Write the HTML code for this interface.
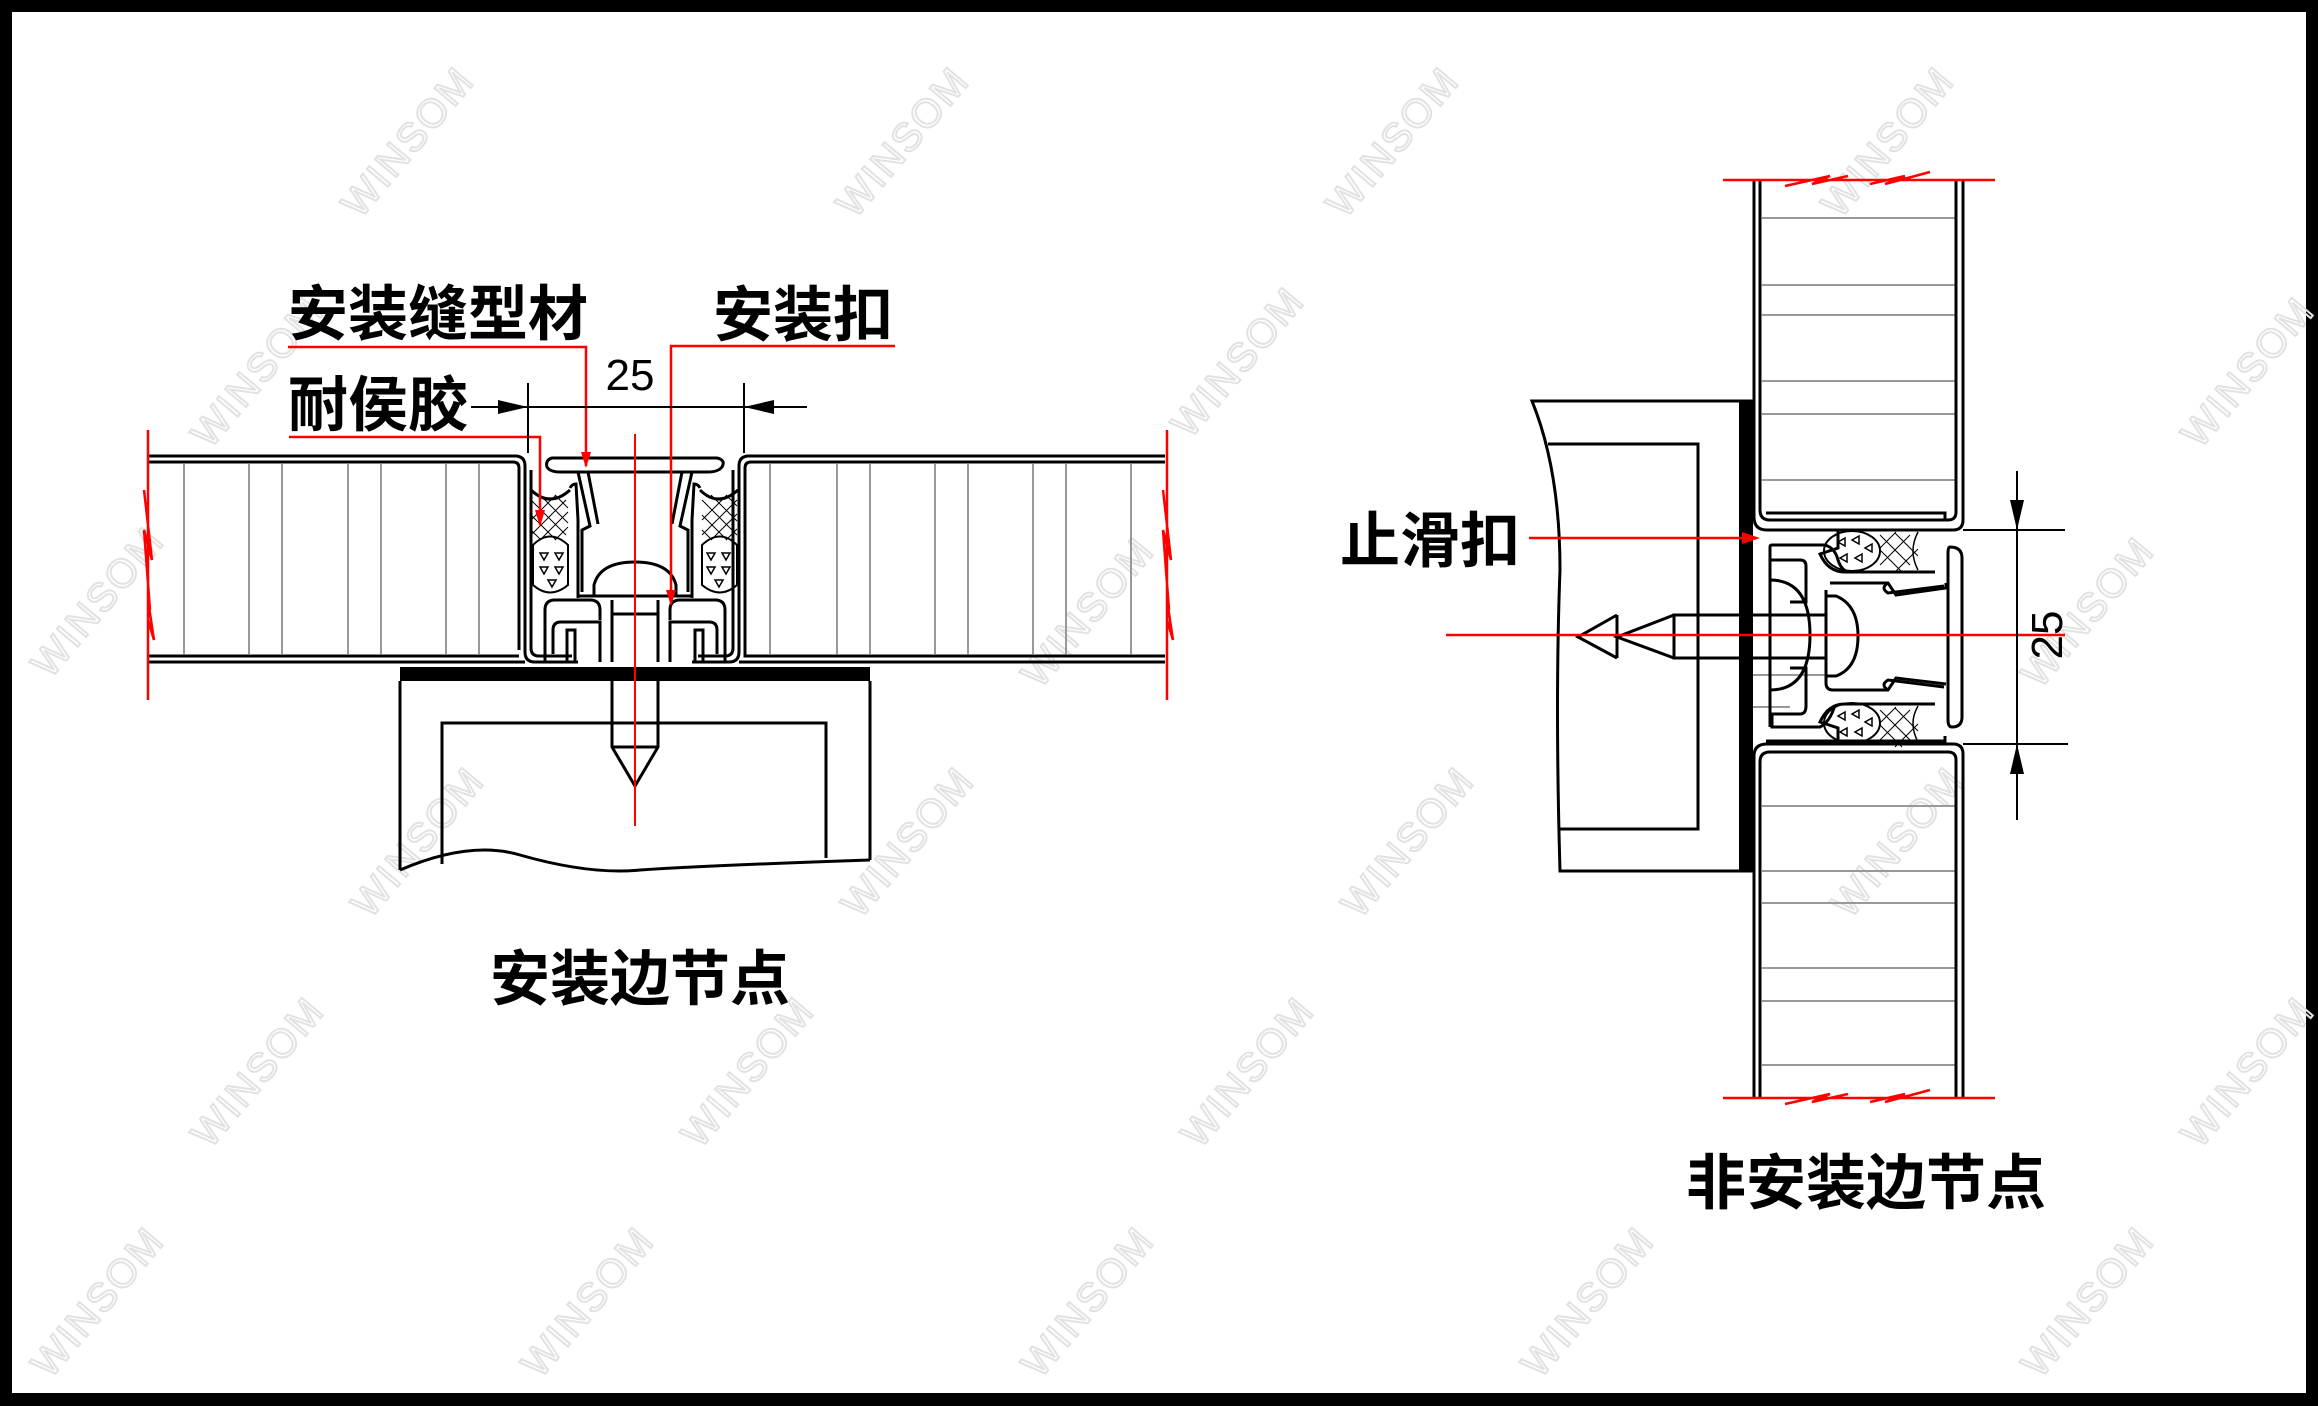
<!DOCTYPE html>
<html><head><meta charset="utf-8">
<style>
html,body{margin:0;padding:0;background:#fff;}
svg{display:block;}
.t{font-family:"Liberation Sans","Noto Sans CJK SC",sans-serif;font-weight:bold;}
.wm{font-family:"Liberation Sans",sans-serif;font-size:40px;fill:none;stroke:#e2e2e2;stroke-width:2;letter-spacing:2px;}
</style></head>
<body>
<svg width="2318" height="1406" viewBox="0 0 2318 1406" xmlns="http://www.w3.org/2000/svg">
<rect x="0" y="0" width="2318" height="1406" fill="#000"/>
<rect x="12" y="12" width="2294" height="1381" fill="#fff"/>

<!-- watermarks -->
<g class="wm">
<text transform="translate(360,220) rotate(-50)">WINSOM</text>
<text transform="translate(855,220) rotate(-50)">WINSOM</text>
<text transform="translate(1345,220) rotate(-50)">WINSOM</text>
<text transform="translate(1840,220) rotate(-50)">WINSOM</text>
<text transform="translate(210,450) rotate(-50)">WINSOM</text>
<text transform="translate(1190,440) rotate(-50)">WINSOM</text>
<text transform="translate(2200,450) rotate(-50)">WINSOM</text>
<text transform="translate(50,680) rotate(-50)">WINSOM</text>
<text transform="translate(1040,690) rotate(-50)">WINSOM</text>
<text transform="translate(2040,690) rotate(-50)">WINSOM</text>
<text transform="translate(370,920) rotate(-50)">WINSOM</text>
<text transform="translate(860,920) rotate(-50)">WINSOM</text>
<text transform="translate(1360,920) rotate(-50)">WINSOM</text>
<text transform="translate(1850,920) rotate(-50)">WINSOM</text>
<text transform="translate(210,1150) rotate(-50)">WINSOM</text>
<text transform="translate(700,1150) rotate(-50)">WINSOM</text>
<text transform="translate(1200,1150) rotate(-50)">WINSOM</text>
<text transform="translate(2200,1150) rotate(-50)">WINSOM</text>
<text transform="translate(50,1380) rotate(-50)">WINSOM</text>
<text transform="translate(540,1380) rotate(-50)">WINSOM</text>
<text transform="translate(1040,1380) rotate(-50)">WINSOM</text>
<text transform="translate(1540,1380) rotate(-50)">WINSOM</text>
<text transform="translate(2040,1380) rotate(-50)">WINSOM</text>
</g>

<!-- ============ LEFT DRAWING ============ -->
<g stroke="#999" stroke-width="2">
<line x1="184" y1="464" x2="184" y2="654"/><line x1="249" y1="464" x2="249" y2="654"/>
<line x1="282" y1="464" x2="282" y2="654"/><line x1="348" y1="464" x2="348" y2="654"/>
<line x1="381" y1="464" x2="381" y2="654"/><line x1="446" y1="464" x2="446" y2="654"/>
<line x1="479" y1="464" x2="479" y2="654"/>
<line x1="770" y1="464" x2="770" y2="654"/><line x1="837" y1="464" x2="837" y2="654"/>
<line x1="870" y1="464" x2="870" y2="654"/><line x1="935" y1="464" x2="935" y2="654"/>
<line x1="968" y1="464" x2="968" y2="654"/><line x1="1033" y1="464" x2="1033" y2="654"/>
<line x1="1066" y1="464" x2="1066" y2="654"/><line x1="1131" y1="464" x2="1131" y2="654"/>
</g>
<g fill="none" stroke="#000" stroke-width="3">
<!-- left panel -->
<path d="M148,456 H515 Q525,456 525,466 V652 Q525,662 535,662 H578"/>
<path d="M148,462 H513 Q519,462 519,468 V650"/>
<path d="M531,470 V648 Q531,656 539,656 H572"/>
<path d="M148,656 H519"/>
<path d="M148,662 H525"/>
<!-- right panel -->
<path d="M1165,456 H749 Q739,456 739,466 V652 Q739,662 729,662 H692"/>
<path d="M1165,462 H751 Q745,462 745,468 V656 H1165"/>
<path d="M733,470 V648 Q733,656 725,656 H698"/>
<path d="M739,662 H1165"/>
<!-- cap -->
<path d="M552,458 H717 Q726,460 722,467 Q718,472 708,472 H560 Q550,472 547,467 Q545,460 552,458 Z"/>
<!-- clip arms -->
<path d="M578,472 L590,526 L582,530 V592"/>
<path d="M588,472 L598,524"/>
<path d="M692,472 L680,526 L688,530 V592"/>
<path d="M682,472 L672,524"/>
<!-- body walls -->
<path d="M570,488 Q572,484 576,484 L578,520 V598"/>
<path d="M700,488 Q698,484 694,484 L692,520 V598"/>
<!-- dome -->
<path d="M594,595 V585 Q600,562 635,562 Q670,562 676,585 V595"/>
<line x1="578" y1="596" x2="692" y2="596"/>
<!-- bottom channels -->
<path d="M545,662 V610 Q545,600 555,600 H590 Q600,600 600,610 V620"/>
<path d="M553,654 V630 Q553,622 561,622 H600 V662"/>
<path d="M725,662 V610 Q725,600 715,600 H680 Q670,600 670,610 V620"/>
<path d="M717,654 V630 Q717,622 709,622 H670 V662"/>
<path d="M567,662 V630 H575 V662"/>
<path d="M703,662 V630 H695 V662"/>
<path d="M612,600 V662 M658,600 V662 M612,614 H658"/>
<!-- sealant outlines -->
<path d="M531,490 Q550,508 570,490"/>
<path d="M738,490 Q718,508 700,490"/>
<path d="M533,545 Q550,528 568,545 V585 Q550,600 533,585 Z" stroke-width="2"/>
<path d="M737,545 Q720,528 702,545 V585 Q720,600 737,585 Z" stroke-width="2"/>
<!-- support -->
<rect x="400" y="667" width="470" height="14" fill="#000" stroke="none"/>
<path d="M400,681 V870"/>
<path d="M870,681 V860"/>
<path d="M400,870 Q470,840 520,855 Q590,875 640,870 Q720,865 870,860"/>
<path d="M442,864 V723 H826 V858"/>
<!-- screw -->
<path d="M612,681 V747 L635,786 L658,747 V681"/>
<line x1="612" y1="747" x2="658" y2="747"/>
</g>
<!-- crosshatch left drawing -->
<g stroke="#000" stroke-width="1">
<path d="M531,500 L566,535 M531,515 L556,540 M540,495 L568,523 M555,495 L568,508 M531,530 L541,540 M531,535 L566,500 M531,520 L556,495 M540,540 L568,512 M555,540 L568,527"/>
<path d="M702,500 L737,535 M702,515 L727,540 M711,495 L737,521 M726,495 L737,506 M702,530 L712,540 M702,535 L737,500 M702,520 L727,495 M711,540 L737,514 M726,540 L737,529"/>
</g>
<g fill="none" stroke="#000" stroke-width="1.5">
<path d="M540,553 l8,0 l-4,7z M555,553 l8,0 l-4,7z M540,567 l8,0 l-4,7z M555,567 l8,0 l-4,7z M548,580 l8,0 l-4,7z"/>
<path d="M707,553 l8,0 l-4,7z M722,553 l8,0 l-4,7z M707,567 l8,0 l-4,7z M722,567 l8,0 l-4,7z M715,580 l8,0 l-4,7z"/>
</g>
<!-- red lines left -->
<g stroke="#f00" stroke-width="2.5" fill="none">
<line x1="635" y1="434" x2="635" y2="826" stroke-width="2"/>
<path d="M288,347 H586 V466"/>
<path d="M895,346 H671 V604"/>
<path d="M289,437 H540 V525"/>
<path d="M148,430 V700 M144,490 L152,560 L144,530 L150,610 M148,600 L154,640 L148,620"/>
<path d="M1167,430 V700 M1163,490 L1171,560 L1163,530 L1169,610 M1167,600 L1173,640 L1167,620"/>
</g>
<g fill="#f00">
<path d="M581,452 L591,452 L586,468Z"/>
<path d="M535,510 L545,510 L540,527Z"/>
<path d="M666,590 L676,590 L671,606Z"/>
</g>
<!-- dimension -->
<g stroke="#000" stroke-width="2" fill="none">
<line x1="471" y1="407" x2="807" y2="407"/>
<line x1="528" y1="383" x2="528" y2="453"/>
<line x1="744" y1="383" x2="744" y2="453"/>
</g>
<path d="M528,407 L498,400 L498,414Z" fill="#000"/>
<path d="M744,407 L774,400 L774,414Z" fill="#000"/>
<text x="630" y="390" class="t" font-size="44" font-weight="normal" text-anchor="middle" style="font-weight:normal">25</text>
<text x="288" y="335" class="t" font-size="60">安装缝型材</text>
<text x="713" y="336" class="t" font-size="60">安装扣</text>
<text x="288" y="426" class="t" font-size="60">耐侯胶</text>
<text x="640" y="1000" class="t" font-size="60" text-anchor="middle">安装边节点</text>

<!-- ============ RIGHT DRAWING ============ -->
<g stroke="#999" stroke-width="2">
<line x1="1762" y1="218" x2="1956" y2="218"/><line x1="1762" y1="285" x2="1956" y2="285"/>
<line x1="1762" y1="315" x2="1956" y2="315"/><line x1="1762" y1="381" x2="1956" y2="381"/>
<line x1="1762" y1="414" x2="1956" y2="414"/><line x1="1762" y1="480" x2="1956" y2="480"/>
<line x1="1762" y1="806" x2="1956" y2="806"/><line x1="1762" y1="871" x2="1956" y2="871"/>
<line x1="1762" y1="903" x2="1956" y2="903"/><line x1="1762" y1="968" x2="1956" y2="968"/>
<line x1="1762" y1="1001" x2="1956" y2="1001"/><line x1="1762" y1="1065" x2="1956" y2="1065"/>
<line x1="1753" y1="675" x2="1825" y2="675"/><line x1="1753" y1="707" x2="1790" y2="707"/>
</g>
<g fill="none" stroke="#000" stroke-width="3">
<!-- top panel -->
<path d="M1754,180 V517 Q1754,530 1767,530 H1953 Q1963,530 1963,520 V180"/>
<path d="M1760,180 V510 Q1760,520 1770,520 H1948 Q1956,520 1956,512 V180"/>
<path d="M1766,513 H1945 V519"/>
<!-- bottom panel -->
<path d="M1754,1098 V756 Q1754,744 1767,744 H1953 Q1963,744 1963,754 V1098"/>
<path d="M1760,1098 V762 Q1760,752 1770,752 H1948 Q1956,752 1956,760 V1098"/>
<path d="M1766,741 H1945 V736"/>
<!-- 止滑扣 bracket -->
<path d="M1770,727 V547 Q1770,545 1772,545 H1825 Q1835,548 1838,560 Q1842,572 1850,572"/>
<path d="M1770,560 H1800 Q1806,560 1806,566 V602 H1790"/>
<path d="M1790,668 H1806 V706 Q1806,714 1800,714 H1772 V727 H1820 Q1830,722 1835,705"/>
<!-- head arc -->
<path d="M1770,580 Q1810,580 1810,635 Q1810,690 1770,690"/>
<!-- main body -->
<path d="M1830,583 H1888 L1896,595 L1946,588 V583"/>
<path d="M1826,590 V683 Q1826,690 1833,690 H1888 L1896,678 L1946,684"/>
<path d="M1888,583 Q1880,588 1888,593 L1944,586"/>
<path d="M1888,690 Q1880,685 1888,680 L1944,687"/>
<!-- dome -->
<path d="M1826,596 H1836 Q1858,605 1858,636 Q1858,668 1836,676 H1826"/>
<!-- cap -->
<path d="M1950,547 Q1962,547 1962,558 V717 Q1962,727 1952,727 Q1948,727 1948,720 V553 Q1948,547 1950,547 Z"/>
<!-- sealant -->
<path d="M1838,530 V548 L1820,554 Q1828,572 1845,572 H1935"/>
<path d="M1838,744 V728 L1820,722 Q1828,704 1845,704 H1935"/>
<ellipse cx="1852" cy="551" rx="28" ry="20" stroke-width="2"/>
<ellipse cx="1852" cy="723" rx="28" ry="20" stroke-width="2"/>
<path d="M1918,532 Q1908,551 1918,570" stroke-width="1.5"/>
<path d="M1918,706 Q1908,723 1918,742" stroke-width="1.5"/>
<!-- support -->
<path d="M1753,401 H1532 Q1560,470 1560,570 Q1555,700 1560,871 H1753"/>
<path d="M1548,444 H1698 V829 H1560"/>
<!-- screw -->
<path d="M1826,615 H1674 V658 H1826"/>
<path d="M1674,615 L1617,637 L1674,658 M1617,615 V658 M1617,615 L1578,637 L1617,658"/>
</g>
<rect x="1739" y="401" width="14" height="470" fill="#000"/>
<g stroke="#000" stroke-width="1">
<path d="M1880,535 L1910,565 M1895,533 L1918,556 M1880,550 L1902,572 M1880,565 L1910,535 M1895,572 L1918,549 M1880,548 L1896,532"/>
<path d="M1880,710 L1910,740 M1895,708 L1918,731 M1880,725 L1902,747 M1880,740 L1910,710 M1895,747 L1918,724 M1880,723 L1896,707"/>
</g>
<g fill="none" stroke="#000" stroke-width="1.5">
<path d="M1838,542 l7,-4 l0,8z M1852,540 l7,-4 l0,8z M1865,548 l7,-4 l0,8z M1840,558 l7,-4 l0,8z M1855,558 l7,-4 l0,8z"/>
<path d="M1838,716 l7,-4 l0,8z M1852,714 l7,-4 l0,8z M1865,722 l7,-4 l0,8z M1840,732 l7,-4 l0,8z M1855,732 l7,-4 l0,8z"/>
</g>
<g stroke="#f00" stroke-width="2.5" fill="none">
<line x1="1446" y1="635" x2="2065" y2="635"/>
<line x1="1529" y1="538" x2="1755" y2="538"/>
<path d="M1723,180 H1995 M1785,186 L1830,176 L1812,184 L1848,176 M1870,184 L1905,176 L1885,184 L1930,172"/>
<path d="M1723,1098 H1995 M1785,1104 L1830,1094 L1812,1102 L1848,1094 M1870,1102 L1905,1094 L1885,1102 L1930,1090"/>
</g>
<path d="M1760,538 L1742,532 L1742,544Z" fill="#f00"/>
<g stroke="#000" stroke-width="2" fill="none">
<line x1="2017" y1="471" x2="2017" y2="820"/>
<line x1="1963" y1="530" x2="2065" y2="530"/>
<line x1="1963" y1="744" x2="2068" y2="744"/>
</g>
<path d="M2017,530 L2010,500 L2024,500Z" fill="#000"/>
<path d="M2017,744 L2010,774 L2024,774Z" fill="#000"/>
<text transform="translate(2062,635) rotate(-90)" class="t" font-size="44" text-anchor="middle" style="font-weight:normal">25</text>
<text x="1340" y="562" class="t" font-size="60">止滑扣</text>
<text x="1866" y="1204" class="t" font-size="60" text-anchor="middle">非安装边节点</text>
</svg>
</body></html>
